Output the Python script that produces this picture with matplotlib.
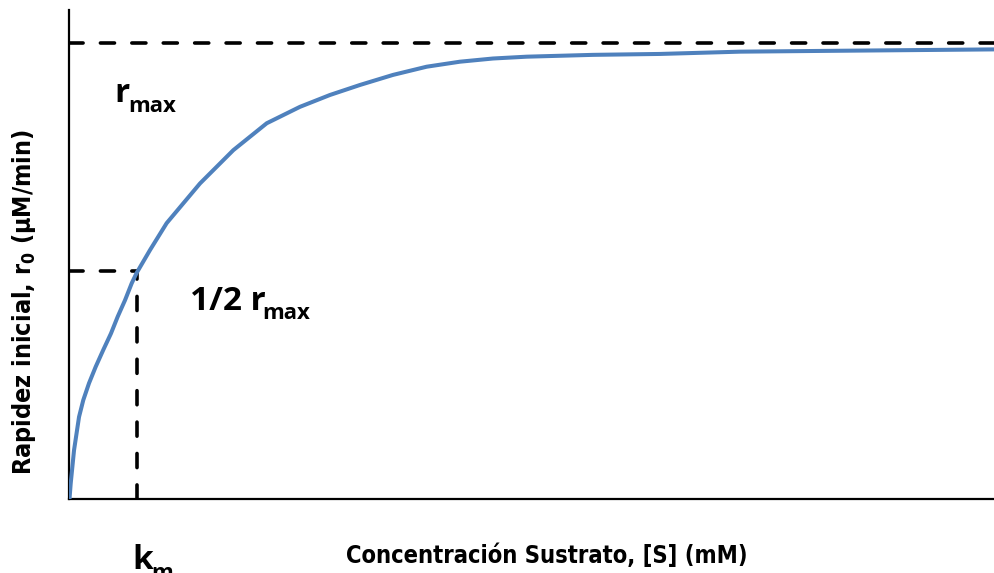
import matplotlib
matplotlib.use("Agg")
import matplotlib.pyplot as plt

# Data: substrate concentration vs initial rate
s_conc = [0.0, 0.13, 0.49, 1.03, 1.49, 2.11, 2.83, 3.65, 4.48, 5.21, 6.00, 6.72,
          7.26, 8.70, 10.50, 14.10, 17.70, 21.31, 24.90, 28.14, 31.39, 34.95,
          38.59, 42.19, 45.76, 49.40, 56.57, 63.8, 72.45, 83.25, 100.0]
rate = [0.0, 3.4, 10.7, 18.0, 21.7, 25.4, 29.0, 32.7, 36.3, 40.0, 43.6, 47.3,
        49.6, 54.6, 60.5, 69.2, 76.5, 82.4, 86.0, 88.6, 90.8, 93.0,
        94.8, 95.9, 96.6, 97.0, 97.4, 97.6, 98.1, 98.3, 98.6]
r_max = 100.0
k_m = 7.26

plt.rcParams['mathtext.default'] = 'regular'

W, H = 995, 573
X0, Y0, YTOP = 69.5, 499, 10
fig = plt.figure(figsize=(W / 100, H / 100), dpi=100)
ax = fig.add_axes([X0 / W, 1 - Y0 / H, 1 - X0 / W, (Y0 - YTOP) / H])
ax.set_xlim(0, 100)
ax.set_ylim(0, (Y0 - YTOP) / 4.56)

ax.plot(s_conc, rate, color='#4F81BD', lw=2.9, solid_capstyle='round',
        solid_joinstyle='round', zorder=3)

dash_kw = dict(color='black', lw=2.6, dashes=(3.9, 4.8), dash_capstyle='round', zorder=2)
ax.plot([0, 100], [r_max, r_max], **dash_kw)
ax.plot([0, k_m], [r_max / 2, r_max / 2], **dash_kw)
ax.plot([k_m, k_m], [0, r_max / 2], **dash_kw)

for side in ['top', 'right']:
    ax.spines[side].set_visible(False)
for side in ['left', 'bottom']:
    ax.spines[side].set_linewidth(1.6)
ax.set_xticks([])
ax.set_yticks([])

cond = dict(family=['DejaVu Sans'], fontstretch='condensed', fontweight='bold')
fig.text(346 / W, 1 - 563 / H, 'Concentración Sustrato, [S] (mM)', fontsize=17,
         ha='left', va='baseline', **cond)
fig.text(38 / W, 1 - 302 / H, 'Rapidez inicial, r$_{0}$ (µM/min)', fontsize=18,
         rotation=90, ha='right', va='center', **cond)

big = dict(family=['Open Sans', 'DejaVu Sans'], fontweight='bold', ha='left', va='baseline')
fig.text(114 / W, 1 - 102 / H, 'r', fontsize=24, **big)
fig.text(128 / W, 1 - 111.5 / H, 'max', fontsize=16, **big)
fig.text(190 / W, 1 - 310.5 / H, '1/2 r', fontsize=24, **big)
fig.text(262 / W, 1 - 319 / H, 'max', fontsize=16, **big)
fig.text(132 / W, 1 - 569 / H, 'k', fontsize=24, **big)
fig.text(151 / W, 1 - 579 / H, 'm', fontsize=16, **big)

fig.savefig('out.png', dpi=100)
